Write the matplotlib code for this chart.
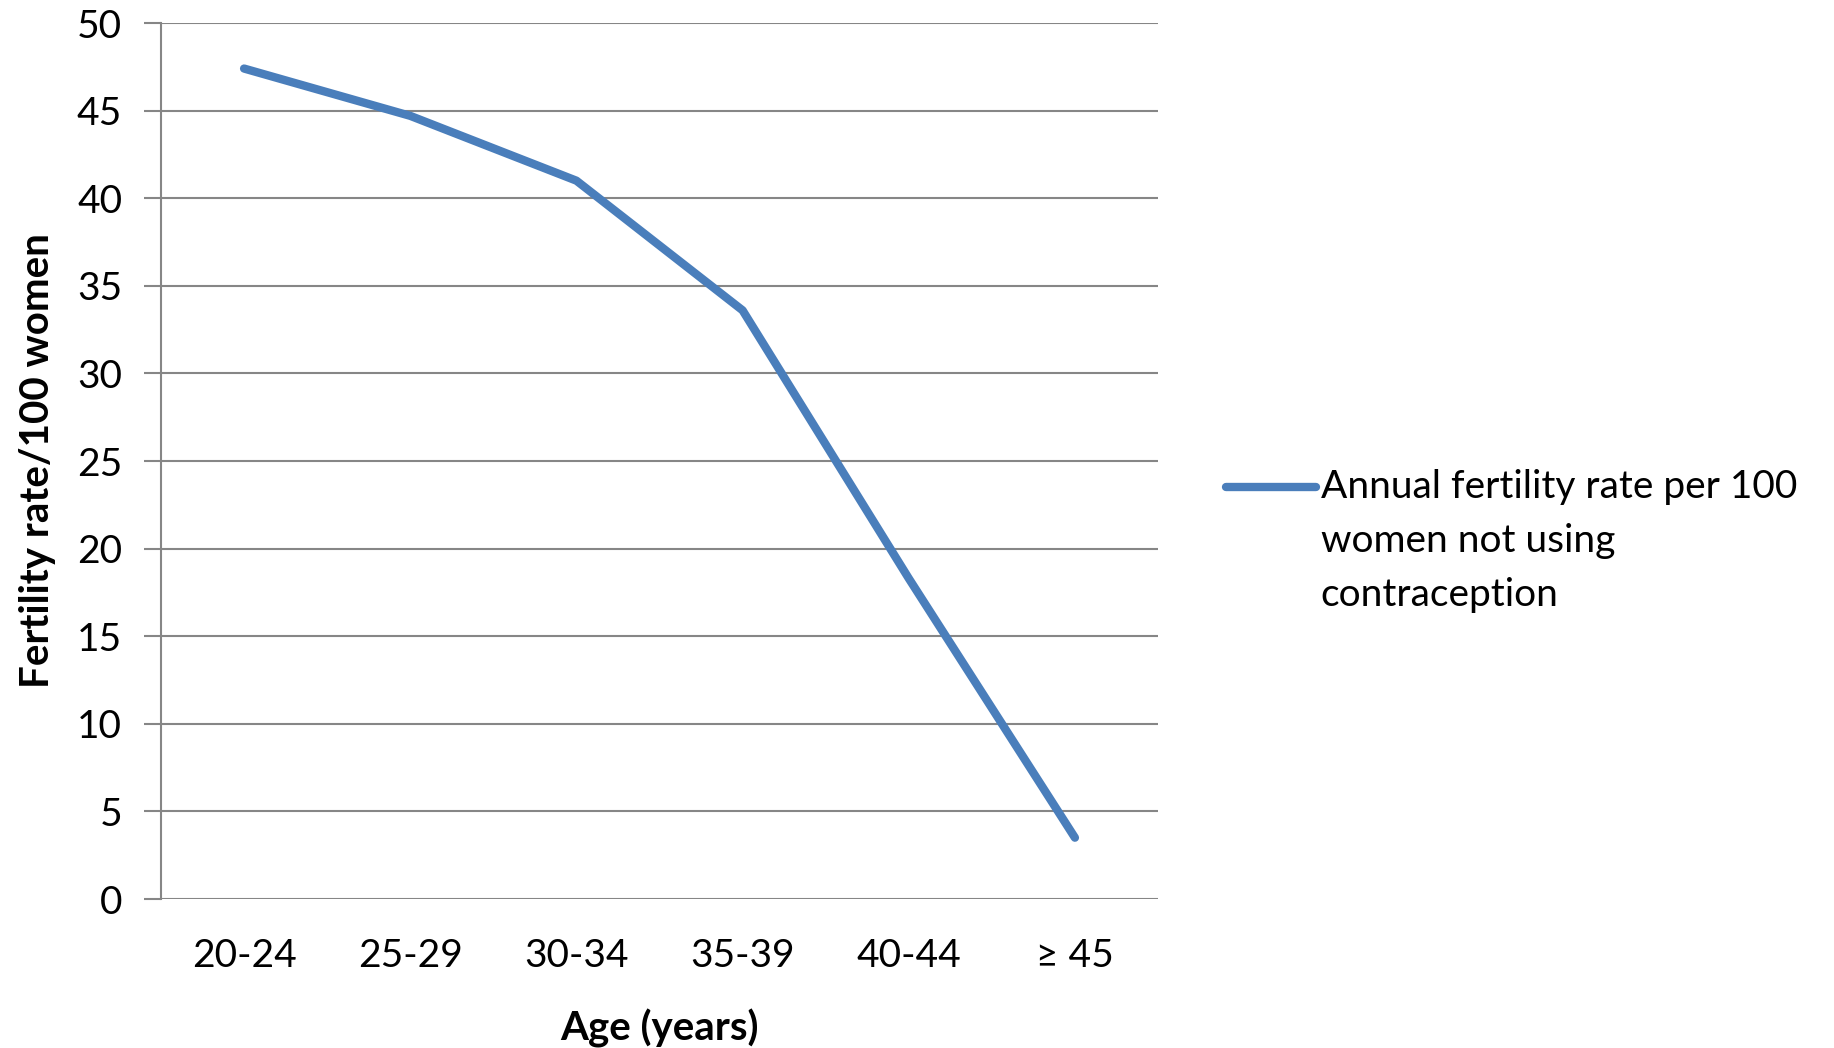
import matplotlib.pyplot as plt

# Data
age_groups = ["20-24", "25-29", "30-34", "35-39", "40-44", "≥ 45"]
fertility_rate = [47.4, 44.7, 41.0, 33.6, 18.3, 3.5]
y_ticks = [0, 5, 10, 15, 20, 25, 30, 35, 40, 45, 50]
series_label = "Annual fertility rate per 100\nwomen not using\ncontraception"

plt.rcParams["font.family"] = ["Lato", "DejaVu Sans"]

fig = plt.figure(figsize=(18.34, 10.48), dpi=100)
ax = fig.add_axes([161 / 1834, 1 - 899 / 1048, 997 / 1834, 876 / 1048])

x = list(range(len(age_groups)))
ax.plot(x, fertility_rate, color="#4A7EBB", linewidth=6,
        solid_capstyle="round", solid_joinstyle="round",
        label=series_label, zorder=3)

ax.set_xlim(-0.5, len(age_groups) - 0.5)
ax.set_ylim(0, 50)
ax.set_yticks(y_ticks)
ax.set_xticks(x)
ax.set_xticklabels(age_groups)

ax.grid(axis="y", color="#868686", linewidth=1.5)
ax.set_axisbelow(True)
for side in ["top", "right", "bottom"]:
    ax.spines[side].set_visible(False)
ax.spines["left"].set_color("#868686")
ax.spines["left"].set_linewidth(1.5)

ax.tick_params(axis="y", length=12, width=1.5, color="#868686",
               labelsize=28, pad=16)
ax.tick_params(axis="x", length=0, labelsize=28, pad=28)

ax.set_xlabel("Age (years)", fontsize=29, fontweight="bold")
ax.set_ylabel("Fertility rate/100 women", fontsize=29, fontweight="bold")
ax.xaxis.set_label_coords(0.5, -0.125)
ax.yaxis.set_label_coords(-0.105, 0.5)

leg = fig.legend(loc="upper left", bbox_to_anchor=(1207 / 1834, 1 - 450 / 1048),
                 frameon=False, fontsize=28, handlelength=2.3,
                 handleheight=1.4, handletextpad=0.12, borderpad=0)
leg.get_texts()[0].set_linespacing(1.62)
# keep the handle level with the first text line, as in the original
for col in leg._legend_handle_box.get_children():
    for item in col.get_children():
        item.align = "top"

fig.savefig("out.png", dpi=100)
